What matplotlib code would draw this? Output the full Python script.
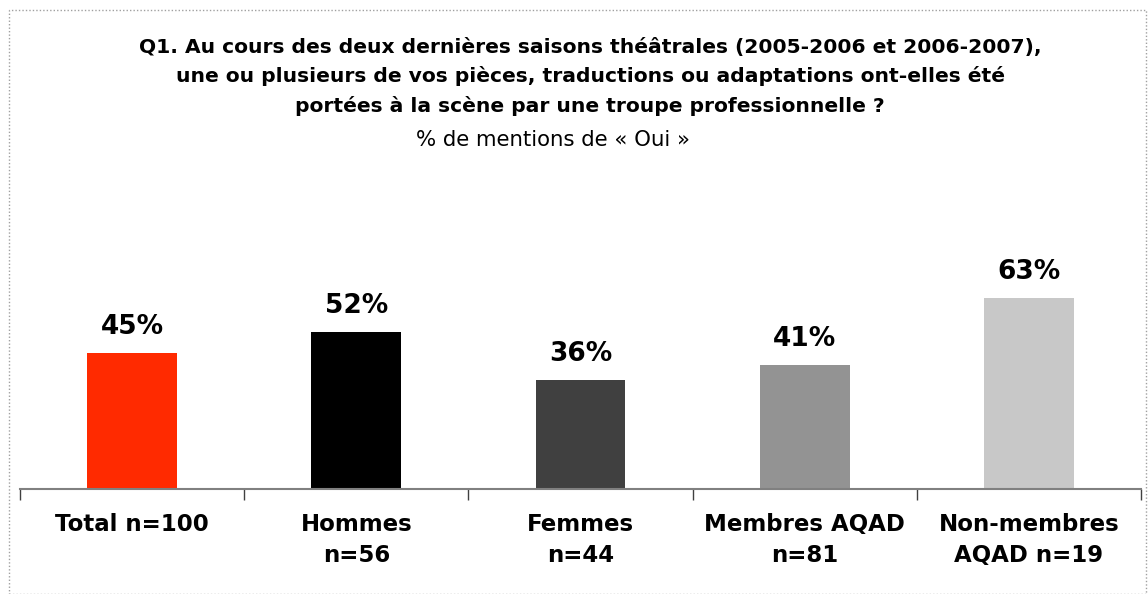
"""
Bar chart: share of authors whose plays were staged by a professional troupe.
"""

import matplotlib
matplotlib.use('Agg')
from matplotlib import pyplot as plt
from matplotlib.patches import Rectangle

plt.rcParams['font.family'] = ['DejaVu Sans']

# data
categories = ['Total n=100', 'Hommes\nn=56', 'Femmes\nn=44',
              'Membres AQAD\nn=81', 'Non-membres\nAQAD n=19']
values = [45, 52, 36, 41, 63]
colors = ['#ff2a00', '#000000', '#404040', '#939393', '#c8c8c8']

title = ('Q1. Au cours des deux dernières saisons théâtrales (2005-2006 et 2006-2007),\n'
         'une ou plusieurs de vos pièces, traductions ou adaptations ont-elles été\n'
         'portées à la scène par une troupe professionnelle ?')
subtitle = '% de mentions de « Oui »'

fig = plt.figure(figsize=(11.48, 5.94), dpi=100)
ax = fig.add_axes([20 / 1148, 105 / 594, 1121 / 1148, 212 / 594])

x = range(len(categories))
bars = ax.bar(x, values, 0.4, color=colors)

for rect, v in zip(bars, values):
    ax.text(rect.get_x() + rect.get_width() / 2, v + 4.2, '{}%'.format(v),
            ha='center', va='bottom', fontsize=19, fontweight='bold')

ax.set_xlim(-0.5, len(categories) - 0.5)
ax.set_ylim(0, 70)

# spines: only the bottom axis line
for side in ['top', 'left', 'right']:
    ax.spines[side].set_visible(False)
ax.spines['bottom'].set_color('#808080')
ax.spines['bottom'].set_linewidth(1.5)
ax.set_yticks([])

# labels at centres, tick marks between categories
ax.set_xticks(list(x))
ax.set_xticklabels(categories, fontsize=16.5, fontweight='bold', linespacing=1.45)
ax.tick_params(axis='x', which='major', length=0, pad=17)
ax.set_xticks([i - 0.5 for i in range(len(categories) + 1)], minor=True)
ax.tick_params(axis='x', which='minor', length=8, width=1, color='#404040')

fig.text(590 / 1148, 1 - 38 / 594, title, ha='center', va='top',
         fontsize=14.6, fontweight='bold', linespacing=1.58)
fig.text(553 / 1148, 1 - 140 / 594, subtitle, ha='center', va='center',
         fontsize=15.3)

# dotted frame round the chart
fig.patches.append(Rectangle((9 / 1148, 0.5 / 594), 1137 / 1148, 584 / 594,
                             transform=fig.transFigure, fill=False,
                             edgecolor='#a0a0a0', linestyle=(0, (1, 1.5)),
                             linewidth=1))

plt.savefig('out.png')
